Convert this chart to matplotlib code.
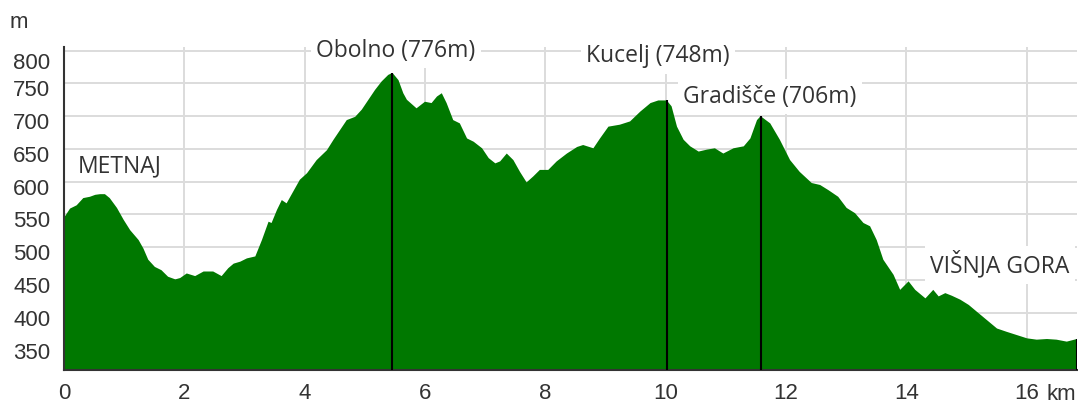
import matplotlib
matplotlib.use("Agg")
import matplotlib.pyplot as plt
import matplotlib.transforms as mtransforms
import numpy as np

# elevation profile
km = [0.00, 0.10, 0.21, 0.32, 0.43, 0.52, 0.60, 0.68, 0.76, 0.88, 0.99, 1.10, 1.24, 1.32,
      1.40, 1.51, 1.62, 1.73, 1.85, 1.93, 2.04, 2.18, 2.32, 2.48, 2.62, 2.73, 2.82, 2.93,
      3.04, 3.18, 3.29, 3.40, 3.45, 3.54, 3.62, 3.70, 3.81, 3.92, 4.04, 4.20, 4.37, 4.48,
      4.59, 4.70, 4.84, 4.95, 5.06, 5.17, 5.28, 5.39, 5.46, 5.56, 5.64, 5.70, 5.86, 6.00,
      6.11, 6.20, 6.28, 6.36, 6.47, 6.58, 6.70, 6.81, 6.95, 7.06, 7.17, 7.25, 7.36, 7.47,
      7.58, 7.69, 7.80, 7.91, 8.05, 8.19, 8.36, 8.53, 8.63, 8.80, 8.91, 9.05, 9.24, 9.41,
      9.58, 9.75, 9.88, 10.02, 10.10, 10.19, 10.30, 10.41, 10.55, 10.69, 10.82, 10.96,
      11.13, 11.30, 11.41, 11.52, 11.58, 11.74, 11.90, 12.07, 12.23, 12.43, 12.57, 12.71,
      12.87, 13.01, 13.15, 13.29, 13.40, 13.51, 13.62, 13.79, 13.90, 14.04, 14.15, 14.32,
      14.45, 14.54, 14.65, 14.76, 14.90, 15.04, 15.17, 15.34, 15.51, 15.67, 15.84, 16.01,
      16.17, 16.34, 16.50, 16.67, 16.84]
elev = [545, 559, 564, 575, 577, 580, 581, 581, 575, 560, 542, 526, 511, 498,
        481, 470, 465, 455, 451, 453, 460, 456, 463, 463, 456, 468, 475, 478,
        483, 486, 511, 539, 537, 557, 572, 567, 585, 603, 613, 633, 648, 664,
        679, 694, 699, 710, 725, 740, 753, 763, 766, 755, 735, 725, 712, 722,
        720, 730, 735, 720, 694, 689, 666, 661, 651, 636, 628, 631, 643, 633,
        615, 599, 608, 618, 618, 631, 643, 653, 656, 651, 666, 684, 687, 692,
        707, 720, 724, 724, 715, 684, 664, 654, 646, 649, 651, 643,
        651, 654, 666, 694, 700, 689, 664, 633, 615, 598, 595, 587,
        577, 560, 552, 537, 532, 511, 481, 458, 435, 448, 435, 422,
        435, 425, 430, 426, 420, 412, 402, 389, 376, 371, 366, 361,
        359, 360, 359, 356, 360]

marker_km = [5.46, 10.02, 11.58, 16.84]
peak_names = ["Obolno (776m)", "Kucelj (748m)", "Gradišče (706m)"]
place_names = ["METNAJ", "VIŠNJA GORA"]

x_ticks = [0, 2, 4, 6, 8, 10, 12, 14, 16]
y_ticks = [350, 400, 450, 500, 550, 600, 650, 700, 750, 800]

txt = "#333333"
lab_font = ["Open Sans", "DejaVu Sans"]
tick_font = ["Liberation Sans", "DejaVu Sans"]

fig = plt.figure(figsize=(10.78, 4.05), dpi=100)
ax = fig.add_axes([0.0594, 0.0864, 0.9397, 0.7983])

ax.fill_between(km, 0, elev, color="#007800", lw=0, zorder=2)
y0 = 312.7
ax.vlines(marker_km, y0, np.interp(marker_km, km, elev), color="black", lw=1.5, zorder=3)

ax.set_xlim(0, 16.84)
ax.set_ylim(y0, 806)
ax.set_xticks(x_ticks)
ax.set_xticklabels([str(t) for t in x_ticks])
ax.set_yticks(y_ticks)
ax.grid(True, color="#dcdcdc", lw=1.4, zorder=0)
ax.set_axisbelow(True)
for s in ["top", "right"]:
    ax.spines[s].set_visible(False)
for s in ["left", "bottom"]:
    ax.spines[s].set_color("#333333")
    ax.spines[s].set_linewidth(1.5)
ax.tick_params(length=0, labelsize=16, labelcolor=txt)
ax.tick_params(axis="x", pad=9)
ax.tick_params(axis="y", pad=10)
for lab in ax.get_xticklabels() + ax.get_yticklabels():
    lab.set_family(tick_font)

# y labels sit a little below their grid lines in the original
for i, lab in enumerate(ax.get_yticklabels()):
    dy = -10 if i == len(y_ticks) - 1 else -5
    lab.set_transform(lab.get_transform() + mtransforms.ScaledTranslation(0, dy / 100, fig.dpi_scale_trans))

# peak and place labels
box = dict(facecolor="white", edgecolor="none", pad=4)
ax.text(4.19, 791, peak_names[0], fontsize=16.5, color=txt, family=lab_font, va="baseline", bbox=box, zorder=4, clip_on=False)
ax.text(8.68, 782, peak_names[1], fontsize=16.5, color=txt, family=lab_font, va="baseline", bbox=box, zorder=4)
ax.text(10.29, 720.5, peak_names[2], fontsize=16.5, color=txt, family=lab_font, va="baseline", bbox=box, zorder=4)
ax.text(0.23, 614, place_names[0], fontsize=16.5, color=txt, family=lab_font, va="baseline", zorder=4)
ax.text(14.40, 461, place_names[1], fontsize=16.5, color=txt, family=lab_font, va="baseline", bbox=box, zorder=4)

fig.text(10 / 1078, (405 - 28) / 405, "m", fontsize=16, color=txt, family=tick_font, va="baseline")
fig.text(1076 / 1078, (405 - 400.5) / 405, "km", fontsize=16, color=txt, family=tick_font, ha="right", va="baseline")

fig.savefig("out.png", dpi=100)
